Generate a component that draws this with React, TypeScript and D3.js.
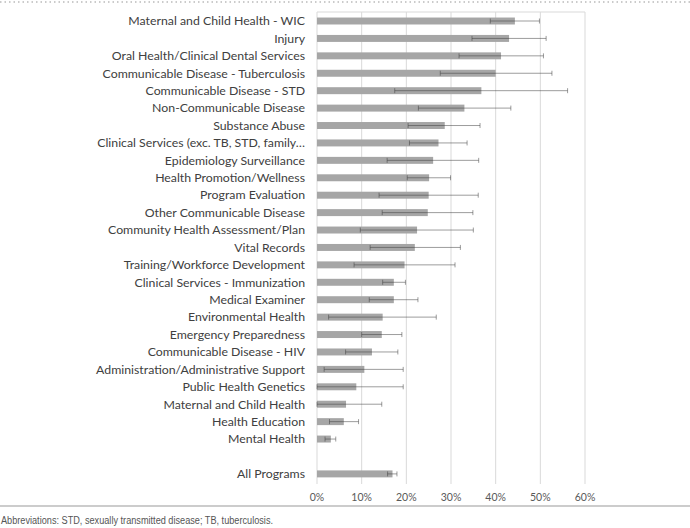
import React from "react";
import * as d3 from "d3";

const categories = [
  "Maternal and Child Health - WIC",
  "Injury",
  "Oral Health/Clinical Dental Services",
  "Communicable Disease - Tuberculosis",
  "Communicable Disease - STD",
  "Non-Communicable Disease",
  "Substance Abuse",
  "Clinical Services (exc. TB, STD, family…",
  "Epidemiology Surveillance",
  "Health Promotion/Wellness",
  "Program Evaluation",
  "Other Communicable Disease",
  "Community Health Assessment/Plan",
  "Vital Records",
  "Training/Workforce Development",
  "Clinical Services - Immunization",
  "Medical Examiner",
  "Environmental Health",
  "Emergency Preparedness",
  "Communicable Disease - HIV",
  "Administration/Administrative Support",
  "Public Health Genetics",
  "Maternal and Child Health",
  "Health Education",
  "Mental Health",
  "",
  "All Programs",
];

const values = [44.3, 43.0, 41.2, 40.0, 36.8, 33.0, 28.6, 27.2, 26.0, 25.1, 25.0, 24.8, 22.4, 21.9, 19.6, 17.2, 17.2, 14.7, 14.5, 12.3, 10.6, 8.8, 6.5, 6.0, 3.1, null, 16.9];
const lows = [38.8, 34.7, 31.8, 27.6, 17.4, 22.7, 20.4, 20.7, 15.7, 20.2, 13.9, 14.6, 9.7, 11.9, 8.3, 14.7, 11.7, 2.6, 10.0, 6.4, 1.6, 0, 0, 2.8, 1.8, null, 15.8];
const highs = [49.8, 51.3, 50.7, 52.6, 56.1, 43.4, 36.5, 33.6, 36.2, 29.9, 36.1, 34.9, 35.0, 32.1, 30.9, 19.8, 22.6, 26.7, 19.0, 18.1, 19.3, 19.3, 14.5, 9.3, 4.2, null, 17.9];
const xTicks = [0, 10, 20, 30, 40, 50, 60];
const footnote = "Abbreviations: STD, sexually transmitted disease; TB, tuberculosis.";

export default function App() {
  const W = 690, H = 528;
  const x = d3.scaleLinear().domain([0, 60]).range([317, 585]);
  const y = d3.scaleBand<number>().domain(d3.range(categories.length)).range([12.3, 482.6]).paddingInner(0.6).paddingOuter(0.3);
  const bw = y.bandwidth();
  const labelFont = "Lato, 'Open Sans', sans-serif";
  return (
    <svg width={W} height={H} style={{ position: "absolute", left: 0, top: 0, background: "#fff" }}>
      <line x1={0} x2={W} y1={2} y2={2} stroke="#bbb" strokeWidth={1.5} strokeDasharray="1.5,3" />
      {xTicks.map((t) => (
        <line key={t} x1={x(t)} x2={x(t)} y1={12} y2={484} stroke="#d9d9d9" strokeWidth={1} />
      ))}
      <line x1={x(0)} x2={x(60)} y1={12} y2={12} stroke="#d9d9d9" />
      {categories.map((c, i) => {
        const v = values[i];
        const cy = (y(i) as number) + bw / 2;
        return (
          <g key={i}>
            {c && (
              <text x={305} y={cy} dy="0.35em" textAnchor="end" fontFamily={labelFont} fontSize={12.3} fill="#404040">
                {c}
              </text>
            )}
            {v != null && (
              <rect x={x(0)} y={y(i) as number} width={x(v) - x(0)} height={bw} fill="#a6a6a6" />
            )}
            {v != null && lows[i] != null && (
              <g stroke="#3c3c3c" strokeOpacity={0.5} strokeWidth={1}>
                <line x1={x(lows[i] as number)} x2={x(highs[i] as number)} y1={cy} y2={cy} />
                <line x1={x(lows[i] as number)} x2={x(lows[i] as number)} y1={cy - 2.5} y2={cy + 2.5} />
                <line x1={x(highs[i] as number)} x2={x(highs[i] as number)} y1={cy - 2.5} y2={cy + 2.5} />
              </g>
            )}
          </g>
        );
      })}
      {xTicks.map((t) => (
        <text key={t} x={x(t)} y={497} dy="0.35em" textAnchor="middle" fontFamily={labelFont} fontSize={10.5} fill="#595959">
          {t}%
        </text>
      ))}
      <line x1={0} x2={W} y1={506} y2={506} stroke="#999" strokeWidth={1} />
      <text x={1} y={520} dy="0.35em" fontFamily="'Liberation Sans', sans-serif" fontSize={10} fill="#555" textLength={272} lengthAdjust="spacingAndGlyphs">
        {footnote}
      </text>
    </svg>
  );
}
